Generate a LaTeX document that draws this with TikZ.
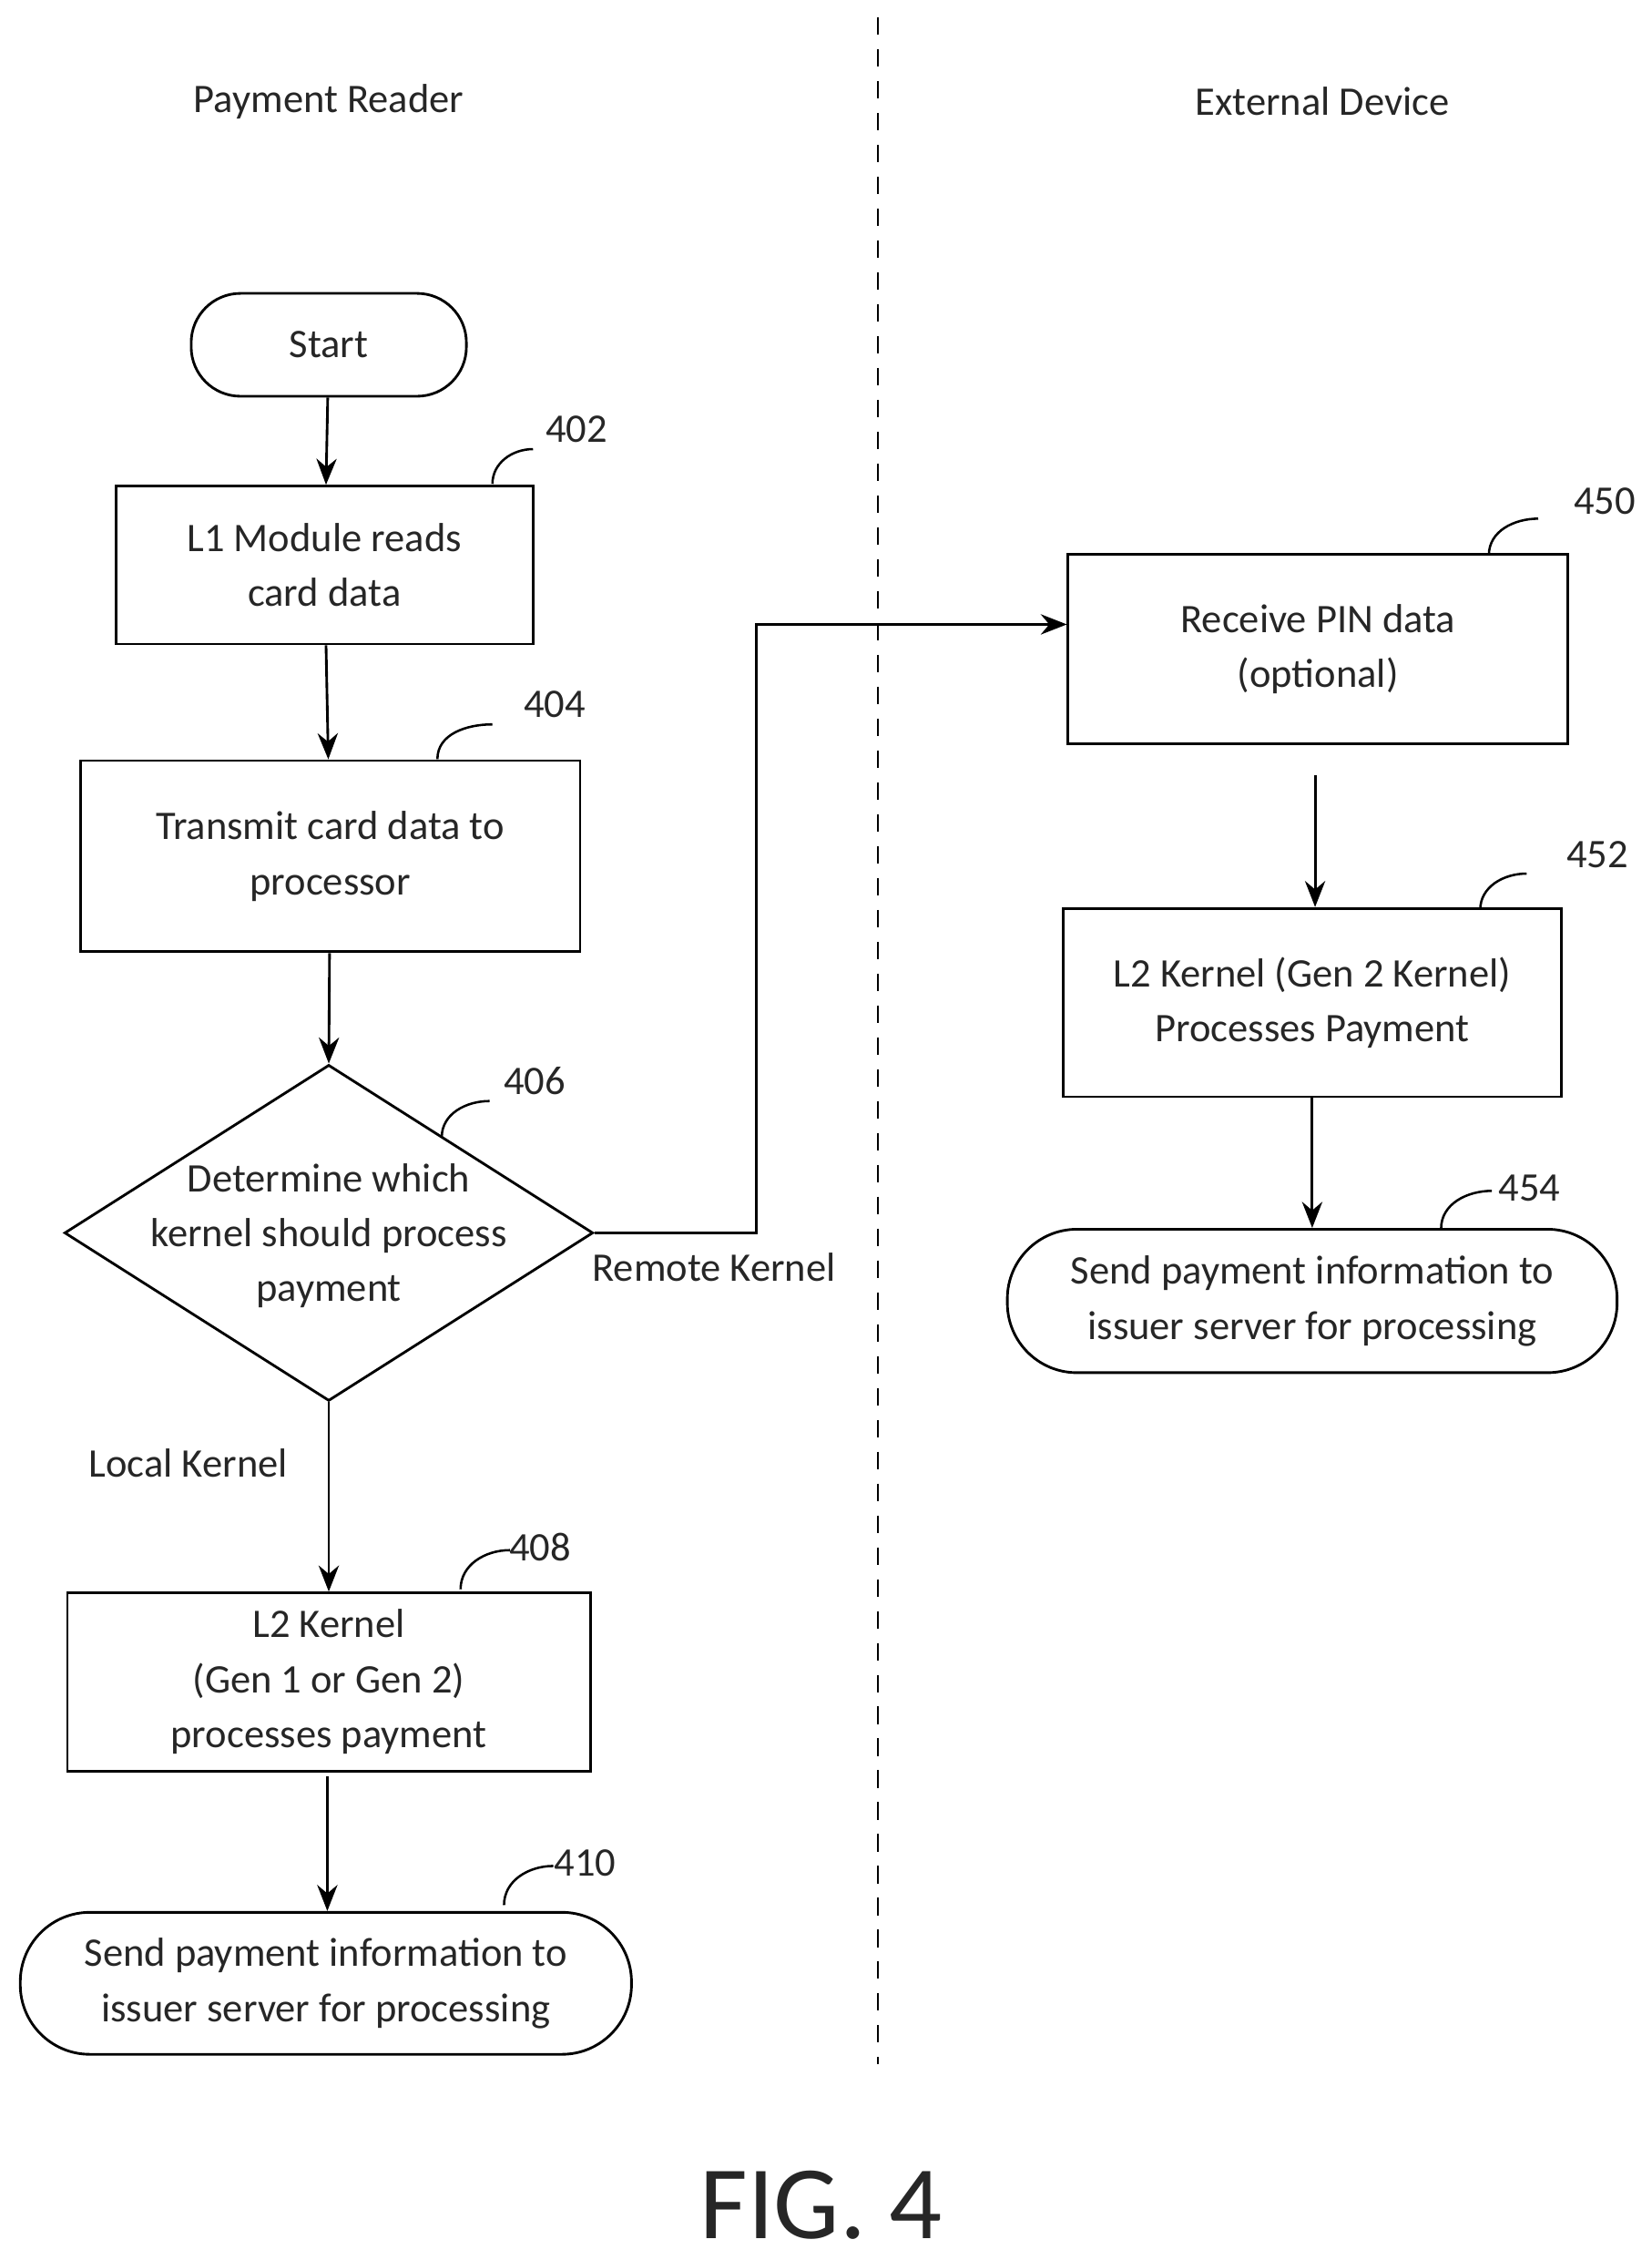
\documentclass[tikz,border=0pt]{standalone}
\usepackage{fontspec}
\setmainfont{Carlito}
\usetikzlibrary{shapes.geometric,arrows.meta}
\begin{document}
\begin{tikzpicture}[x=0.5pt,y=-0.5pt,
  txt/.style={font=\fontsize{14}{19}\selectfont,align=center,text=black!85},
  box/.style={draw,line width=0.9pt,txt,inner sep=0pt},
  arr/.style={line width=0.9pt,-{Stealth[length=9pt,width=7pt]}},
  tick/.style={line width=0.8pt},
  num/.style={font=\fontsize{14}{15}\selectfont,text=black!85}]
\useasboundingbox (0,0) rectangle (1140,1560);
\draw[line width=0.8pt,dash pattern=on 6pt off 5pt] (606,12) coordinate (d1) -- (606,1425) coordinate (d2);
\node[txt] (h1) at (227,70) {Payment Reader};
\node[txt] (h2) at (913,70) {External Device};
\node[box,rounded corners=17pt,minimum width=95pt,minimum height=35.5pt] (s) at (227,238) {Start};
\node[box,minimum width=144pt,minimum height=54.5pt] (b402) at (224,390) {L1 Module reads\\card data};
\node[box,minimum width=172.5pt,minimum height=66pt] (b404) at (228,591) {Transmit card data to\\processor};
\node[box,diamond,aspect=1.57,minimum width=182.5pt,minimum height=116pt,inner sep=0pt] (d) at (227,851) {};
\node[txt] (dt) at (227,853) {Determine which\\kernel should process\\payment};
\node[box,minimum width=172.5pt,minimum height=65.5pt] (b450) at (910,448) {Receive PIN data\\(optional)};
\node[box,minimum width=172pt,minimum height=65pt] (b452) at (906,692) {L2 Kernel (Gen 2 Kernel)\\Processes Payment};
\node[box,rounded corners=24pt,minimum width=210.5pt,minimum height=49.5pt] (b454) at (906,898) {Send payment information to\\issuer server for processing};
\node[box,minimum width=180.5pt,minimum height=61.5pt] (b408) at (227,1161) {L2 Kernel\\(Gen 1 or Gen 2)\\processes payment};
\node[box,rounded corners=24pt,minimum width=211pt,minimum height=49pt] (b410) at (225,1369) {Send payment information to\\issuer server for processing};
\node[txt] (rk) at (493,875) {Remote Kernel};
\node[txt] (lk) at (130,1010) {Local Kernel};
\node[font=\fontsize{36}{40}\selectfont,text=black!85] (fig) at (567,1522) {FIG. 4};
\draw[arr] (s) -- (b402);
\draw[arr] (b402) -- (b404);
\draw[arr] (b404) -- (d.north);
\coordinate (c1) at (522,851); \coordinate (c2) at (522,431);
\draw[arr] (d.east) -- (c1) -- (c2) -- (b450.west |- c2);
\coordinate (a1) at (908,535);
\draw[arr] (a1) -- (b452.north -| a1);
\draw[arr] (b452) -- (b454);
\draw[arr] (d.south) -- (b408);
\coordinate (a2) at (226,1226);
\draw[arr] (a2) -- (b410.north -| a2);
\foreach \n/\lx/\ly/\ax/\ay/\bx/\by in {402/398/296/340/334/368/310, 404/383/486/302/524/340/500, 406/369/746/305/785/338/760, 450/1108/346/1028/383/1062/358, 452/1103/590/1022/628/1054/603, 454/1056/820/995/848/1030/822, 408/373/1068/318/1097/352/1070, 410/404/1286/348/1315/382/1288}{
  \node[num] (n\n) at (\lx,\ly) {\n};
  \draw[tick] (\ax,\ay) to[out=90,in=180] (\bx,\by);
}
\end{tikzpicture}
\end{document}
